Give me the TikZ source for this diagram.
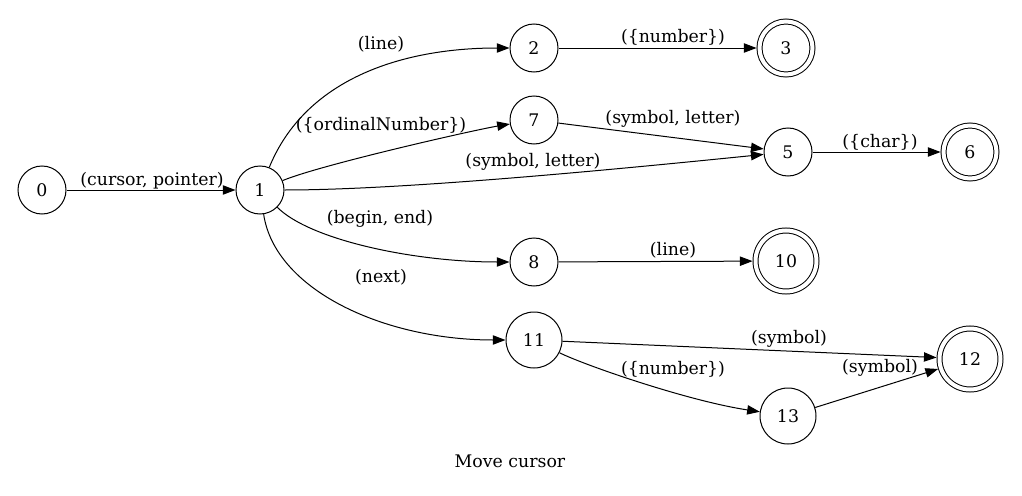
\documentclass[tikz,border=0pt]{standalone}
\usepackage{fontspec}
\setmainfont{DejaVu Serif}
\usetikzlibrary{arrows.meta}
\begin{document}
\begin{tikzpicture}[x=0.75pt,y=-0.75pt,
  every node/.style={font=\fontsize{13pt}{15pt}\selectfont},
  st/.style={circle,draw,line width=0.75pt,inner sep=0pt,minimum size=36pt},
  stw/.style={st,minimum size=42pt},
  acc/.style={circle,draw,line width=0.75pt,double,double distance=3pt,inner sep=0pt,minimum size=39.75pt,outer sep=2.2pt},
  accw/.style={acc,minimum size=45.75pt},
  lab/.style={inner sep=0pt},
  tr/.style={line width=0.75pt,-{Triangle[length=9.5pt,width=7pt]}}]
\useasboundingbox (0,0) rectangle (1022,496);
% states
\node[st]   (n0)  at (42,190)  {0};
\node[st]   (n1)  at (260,190) {1};
\node[st]   (n2)  at (534,48)  {2};
\node[acc]  (n3)  at (786,48)  {3};
\node[st]   (n7)  at (534,120) {7};
\node[st]   (n5)  at (788,152) {5};
\node[acc]  (n6)  at (970,152) {6};
\node[st]   (n8)  at (534,262) {8};
\node[accw] (n10) at (786,261) {10};
\node[stw]  (n11) at (534,340) {11};
\node[accw] (n12) at (970,359) {12};
\node[stw]  (n13) at (788,416) {13};
% transitions
\draw[tr] (n0) -- (n1);
\draw[tr] (n1) .. controls +(45,-110) and +(-134,0) .. (n2);
\draw[tr] (n1) .. controls +(60,-25) and +(-60,10) .. (n7);
\draw[tr] (n1) .. controls +(150,0) and +(-150,15) .. (n5);
\draw[tr] (n1) .. controls +(50,50) and +(-120,0) .. (n8);
\draw[tr] (n1) .. controls +(15,100) and +(-150,0) .. (n11);
\draw[tr] (n2) -- (n3);
\draw[tr] (n7) -- (n5);
\draw[tr] (n5) -- (n6);
\draw[tr] (n8) -- (n10);
\draw[tr] (n11) -- (n12);
\draw[tr] (n11) .. controls +(50,25) and +(-100,-15) .. (n13);
\draw[tr] (n13) -- (n12);
% labels
\node[lab] (l01)  at (152,181) {(cursor, pointer)};
\node[lab] (l12)  at (381,44)  {(line)};
\node[lab] (l17)  at (381,125) {(\{ordinalNumber\})};
\node[lab] (l15)  at (533,162) {(symbol, letter)};
\node[lab] (l18)  at (380,219) {(begin, end)};
\node[lab] (l111) at (381,277) {(next)};
\node[lab] (l23)  at (673,37)  {(\{number\})};
\node[lab] (l75)  at (673,119) {(symbol, letter)};
\node[lab] (l56)  at (880,142) {(\{char\})};
\node[lab] (l810) at (673,250) {(line)};
\node[lab] (l1112) at (789,339) {(symbol)};
\node[lab] (l1113) at (673,369) {(\{number\})};
\node[lab] (l1312) at (880,368) {(symbol)};
\node[lab] (cap)  at (510,461) {Move cursor};
\end{tikzpicture}
\end{document}
